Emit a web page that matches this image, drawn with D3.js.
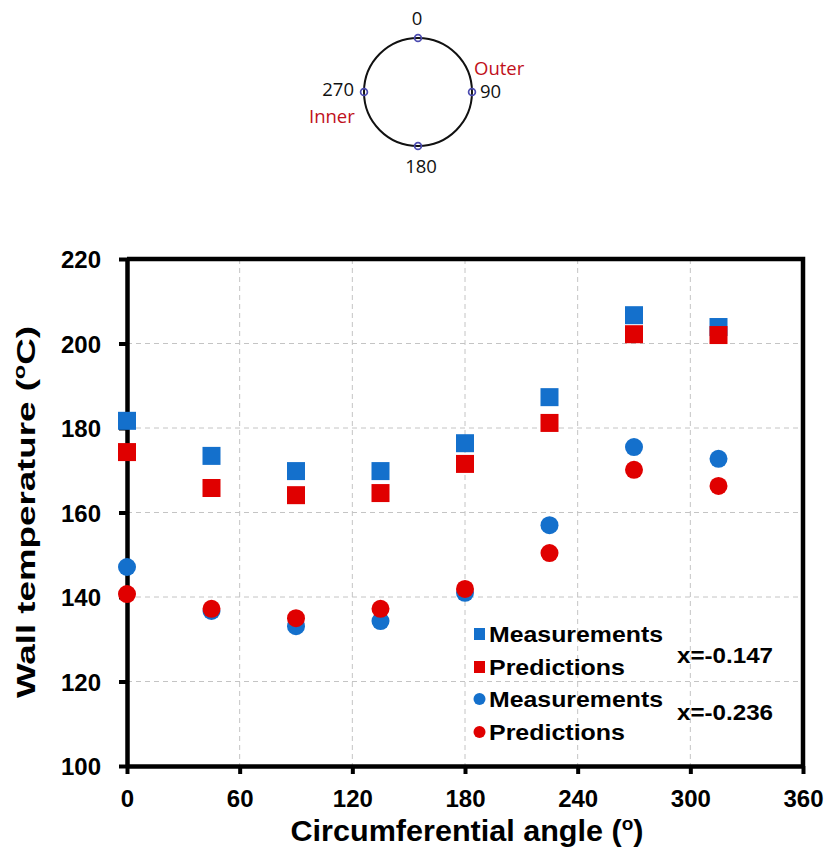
<!DOCTYPE html>
<html>
<head>
<meta charset="utf-8">
<script src="https://cdn.jsdelivr.net/npm/d3@7"></script>
<style>
  html, body { margin: 0; padding: 0; background: #fff; }
  svg { display: block; }
  .tick text { font-family: "Liberation Sans", Arial, sans-serif; font-weight: bold; }
</style>
</head>
<body>
<svg id="chart" width="826" height="859"></svg>
<script>
// Circumferential positions (degrees)
const angles = [0, 45, 90, 135, 180, 225, 270, 315];

// Wall temperature (°C) at x = -0.147
const measuredA  = [181.7, 173.4, 169.8, 169.8, 176.4, 187.3, 206.7, 203.9];
const predictedA = [174.3, 165.8, 164.1, 164.6, 171.5, 181.2, 202.2, 202.0];

// Wall temperature (°C) at x = -0.236
const measuredB  = [147.1, 136.7, 133.1, 134.3, 141.0, 157.0, 175.5, 172.7];
const predictedB = [140.7, 137.2, 135.0, 137.2, 141.9, 150.4, 170.1, 166.3];

const xTicks = [0, 60, 120, 180, 240, 300, 360];
const yTicks = [100, 120, 140, 160, 180, 200, 220];

// Orientation sketch labels
const sketchAngles = [0, 90, 180, 270];

const BLUE = "#1470cc";
const RED = "#e00000";
const FONT = "'Liberation Sans', Arial, sans-serif";

const svg = d3.select("#chart");

// ---------- orientation sketch ----------
const sk = { cx: 418, cy: 92, r: 54 };
const sketch = svg.append("g");
sketch.append("circle")
  .attr("cx", sk.cx).attr("cy", sk.cy).attr("r", sk.r)
  .attr("fill", "none").attr("stroke", "#111").attr("stroke-width", 2);
sketch.selectAll("circle.pt").data(sketchAngles).join("circle")
  .attr("class", "pt")
  .attr("cx", a => sk.cx + sk.r * Math.sin(a * Math.PI / 180))
  .attr("cy", a => sk.cy - sk.r * Math.cos(a * Math.PI / 180))
  .attr("r", 3.4)
  .attr("fill", "none").attr("stroke", "#4b4bb0").attr("stroke-width", 1.7);

const skLabels = [
  { t: "0",     x: 417, y: 25,  a: "middle", c: "#111" },
  { t: "90",    x: 480, y: 98,  a: "start",  c: "#111" },
  { t: "180",   x: 421, y: 173, a: "middle", c: "#111" },
  { t: "270",   x: 354, y: 96,  a: "end",    c: "#111" },
  { t: "Outer", x: 474, y: 75,  a: "start",  c: "#c0101a" },
  { t: "Inner", x: 309, y: 123, a: "start",  c: "#c0101a" }
];
sketch.selectAll("text").data(skLabels).join("text")
  .attr("x", d => d.x).attr("y", d => d.y)
  .attr("text-anchor", d => d.a)
  .attr("fill", d => d.c)
  .attr("font-family", "'Open Sans', 'Noto Sans', sans-serif")
  .attr("font-size", 18.5)
  .text(d => d.t);

// ---------- main plot ----------
const plot = { left: 127, right: 803, top: 259, bottom: 766 };
const x = d3.scaleLinear().domain([0, 360]).range([plot.left, plot.right]);
const y = d3.scaleLinear().domain([100, 220]).range([plot.bottom, plot.top]);

// dashed grid
const grid = svg.append("g")
  .attr("stroke", "#c4c4c4").attr("stroke-width", 1).attr("stroke-dasharray", "5,4");
grid.selectAll("line.gx").data(xTicks.slice(1, -1)).join("line")
  .attr("x1", d => x(d)).attr("x2", d => x(d))
  .attr("y1", plot.top).attr("y2", plot.bottom);
grid.selectAll("line.gy").data(yTicks.slice(1, -1)).join("line")
  .attr("x1", plot.left).attr("x2", plot.right)
  .attr("y1", d => y(d)).attr("y2", d => y(d));

// frame (top and right)
svg.append("path")
  .attr("d", `M${plot.left},${plot.top}H${plot.right}V${plot.bottom}`)
  .attr("fill", "none").attr("stroke", "#000").attr("stroke-width", 4.5);

// axes
const xAxis = svg.append("g")
  .attr("transform", `translate(0,${plot.bottom})`)
  .call(d3.axisBottom(x).tickValues(xTicks).tickSize(8).tickSizeOuter(0).tickPadding(16).tickFormat(d3.format("d")));
const yAxis = svg.append("g")
  .attr("transform", `translate(${plot.left},0)`)
  .call(d3.axisLeft(y).tickValues(yTicks).tickSize(8).tickSizeOuter(0).tickPadding(18).tickFormat(d3.format("d")));
[xAxis, yAxis].forEach(g => {
  g.select(".domain").attr("stroke", "#000").attr("stroke-width", 4.5);
  g.selectAll(".tick line").attr("stroke", "#000").attr("stroke-width", 4);
  g.selectAll(".tick text").attr("font-size", 24).attr("fill", "#000");
});
xAxis.selectAll(".tick text").attr("dy", "0.71em");
yAxis.selectAll(".tick text").attr("dy", "0.36em");

// axis titles
const xt = svg.append("text")
  .attr("x", (plot.left + plot.right) / 2 + 2).attr("y", 841)
  .attr("text-anchor", "middle")
  .attr("font-family", FONT).attr("font-weight", "bold").attr("font-size", 29)
  .attr("textLength", 353).attr("lengthAdjust", "spacingAndGlyphs");
xt.append("tspan").text("Circumferential angle (");
xt.append("tspan").attr("dy", -11).attr("font-size", 18).text("o");
xt.append("tspan").attr("dy", 11).text(")");

const yt = svg.append("text")
  .attr("transform", `translate(35,512) rotate(-90)`)
  .attr("text-anchor", "middle")
  .attr("font-family", FONT).attr("font-weight", "bold").attr("font-size", 25)
  .attr("textLength", 372).attr("lengthAdjust", "spacingAndGlyphs");
yt.append("tspan").text("Wall temperature (");
yt.append("tspan").attr("dy", -10).attr("font-size", 16).text("o");
yt.append("tspan").attr("dy", 10).text("C)");

// data markers: measurements drawn first, predictions on top
const series = [
  { vals: measuredA,  color: BLUE, shape: "square" },
  { vals: predictedA, color: RED,  shape: "square" },
  { vals: measuredB,  color: BLUE, shape: "circle" },
  { vals: predictedB, color: RED,  shape: "circle" }
];
const S = 18;
series.forEach(s => {
  const pts = angles.map((a, i) => ({ a, v: s.vals[i] }));
  const g = svg.append("g").attr("fill", s.color);
  if (s.shape === "square") {
    g.selectAll("rect").data(pts).join("rect")
      .attr("x", d => x(d.a) - S / 2).attr("y", d => y(d.v) - S / 2)
      .attr("width", S).attr("height", S);
  } else {
    g.selectAll("circle").data(pts).join("circle")
      .attr("cx", d => x(d.a)).attr("cy", d => y(d.v)).attr("r", 9);
  }
});

// legend
const legendItems = [
  { label: "Measurements", color: BLUE, shape: "square", base: 642, len: 174 },
  { label: "Predictions",  color: RED,  shape: "square", base: 675, len: 136 },
  { label: "Measurements", color: BLUE, shape: "circle", base: 707, len: 174 },
  { label: "Predictions",  color: RED,  shape: "circle", base: 740, len: 136 }
];
const lg = svg.append("g");
legendItems.forEach(it => {
  const cy = it.base - 8;
  if (it.shape === "square") {
    lg.append("rect").attr("x", 474).attr("y", cy - 6).attr("width", 11).attr("height", 12).attr("fill", it.color);
  } else {
    lg.append("circle").attr("cx", 479.5).attr("cy", cy).attr("r", 6).attr("fill", it.color);
  }
  lg.append("text").attr("x", 489).attr("y", it.base)
    .attr("font-family", FONT).attr("font-weight", "bold").attr("font-size", 21.5)
    .attr("textLength", it.len).attr("lengthAdjust", "spacingAndGlyphs")
    .text(it.label);
});
const groupLabels = [
  { t: "x=-0.147", base: 663 },
  { t: "x=-0.236", base: 720 }
];
lg.selectAll("text.grp").data(groupLabels).join("text")
  .attr("class", "grp")
  .attr("x", 677).attr("y", d => d.base)
  .attr("font-family", FONT).attr("font-weight", "bold").attr("font-size", 21.5)
  .attr("textLength", 96).attr("lengthAdjust", "spacingAndGlyphs")
  .text(d => d.t);
</script>
</body>
</html>
